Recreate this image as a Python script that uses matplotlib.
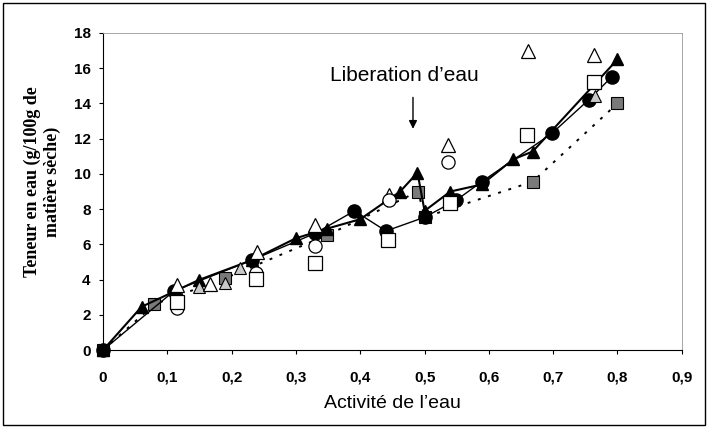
import matplotlib
matplotlib.use("Agg")
import matplotlib.pyplot as plt
from matplotlib.patches import Rectangle

# filled triangles, solid line
tri_x = [0, 0.06, 0.149, 0.231, 0.30, 0.349, 0.40, 0.462, 0.489, 0.50, 0.54, 0.589, 0.638, 0.668, 0.80]
tri_y = [0, 2.46, 3.98, 5.1, 6.35, 6.9, 7.43, 9.0, 10.07, 7.9, 9.0, 9.4, 10.83, 11.27, 16.5]

# filled circles, solid line
circ_x = [0, 0.111, 0.231, 0.33, 0.391, 0.44, 0.50, 0.549, 0.589, 0.698, 0.755, 0.791]
circ_y = [0, 3.37, 5.1, 6.63, 7.9, 6.76, 7.54, 8.5, 9.56, 12.3, 14.2, 15.5]

# shaded squares, dotted line
sq_x = [0, 0.08, 0.19, 0.349, 0.49, 0.50, 0.668, 0.80]
sq_y = [0, 2.6, 4.08, 6.53, 9.0, 7.54, 9.56, 14.0]

# open markers, no line
otri_x = [0.115, 0.166, 0.239, 0.33, 0.444, 0.537, 0.661, 0.764]
otri_y = [3.7, 3.75, 5.58, 7.1, 8.8, 11.65, 16.95, 16.76]
ocirc_x = [0.115, 0.238, 0.33, 0.444, 0.537]
ocirc_y = [2.4, 4.4, 5.9, 8.5, 10.7]
osq_x = [0.115, 0.238, 0.33, 0.443, 0.539, 0.659, 0.763]
osq_y = [2.74, 4.05, 4.93, 6.25, 8.37, 12.2, 15.2]

# light grey triangles
gtri_x = [0.149, 0.19, 0.213, 0.765]
gtri_y = [3.6, 3.8, 4.65, 14.4]

xticks = [0, 0.1, 0.2, 0.3, 0.4, 0.5, 0.6, 0.7, 0.8, 0.9]
xlabels = ["0", "0,1", "0,2", "0,3", "0,4", "0,5", "0,6", "0,7", "0,8", "0,9"]
yticks = [0, 2, 4, 6, 8, 10, 12, 14, 16, 18]

fig = plt.figure(figsize=(7.08, 4.28), dpi=100)
ax = fig.add_axes([0.1455, 0.182, 0.8175, 0.741])

ax.plot(sq_x, sq_y, linestyle=(0, (1.5, 4)), color="black", lw=1.4,
        marker="s", ms=9, mfc="#7a7a7a", mec="black", mew=0.8, clip_on=False, zorder=3)
ax.plot(circ_x, circ_y, "-", color="black", lw=1.0,
        marker="o", ms=9.5, mfc="black", mec="black", clip_on=False, zorder=4)
ax.plot(tri_x, tri_y, "-", color="black", lw=1.5,
        marker="^", ms=8.5, mfc="black", mec="black", clip_on=False, zorder=5)
ax.plot(gtri_x, gtri_y, linestyle="none", marker="^", ms=9, mfc="#c8c8c8",
        mec="black", mew=0.8, zorder=5)
ax.plot(otri_x, otri_y, linestyle="none", marker="^", ms=10.5, mfc="white",
        mec="black", mew=0.9, zorder=6)
ax.plot(ocirc_x, ocirc_y, linestyle="none", marker="o", ms=9.5, mfc="white",
        mec="black", mew=0.9, zorder=6)
ax.plot(osq_x, osq_y, linestyle="none", marker="s", ms=9.5, mfc="white",
        mec="black", mew=0.9, zorder=6)

ax.set_xlim(0, 0.9)
ax.set_ylim(0, 18)
ax.set_xticks(xticks)
ax.set_xticklabels(xlabels)
ax.set_yticks(yticks)
for lab in ax.get_xticklabels() + ax.get_yticklabels():
    lab.set_fontfamily("Liberation Sans")
    lab.set_fontweight("bold")
    lab.set_fontsize(11)
ax.tick_params(axis="x", direction="out", length=3, width=0.8, pad=12)
ax.tick_params(axis="y", direction="out", length=3, width=0.8, pad=6)

ax.spines["left"].set_color("black")
ax.spines["bottom"].set_color("black")
ax.spines["top"].set_color("#999999")
ax.spines["right"].set_color("#999999")
ax.spines["top"].set_linewidth(0.6)
ax.spines["right"].set_linewidth(0.6)

ax.set_xlabel("Activité de l’eau", fontfamily="Liberation Sans", fontsize=14, labelpad=7)
ax.set_ylabel("Teneur en eau (g/100g de\nmatière sèche)", fontfamily="Liberation Serif",
              fontweight="bold", fontsize=13, linespacing=1.15)
ax.yaxis.set_label_coords(-0.073, 0.53)

ax.annotate("", xy=(0.482, 12.4), xytext=(0.482, 14.5),
            arrowprops=dict(arrowstyle="-|>", color="black", lw=1.0, mutation_scale=12))
ax.text(0.469, 15.6, "Liberation d’eau", ha="center", va="center",
        fontfamily="Liberation Sans", fontsize=15)

fig.patches.append(Rectangle((0.004, 0.006), 0.992, 0.988, transform=fig.transFigure,
                             fill=False, edgecolor="black", lw=1.0))

fig.savefig("out.png", dpi=100)
